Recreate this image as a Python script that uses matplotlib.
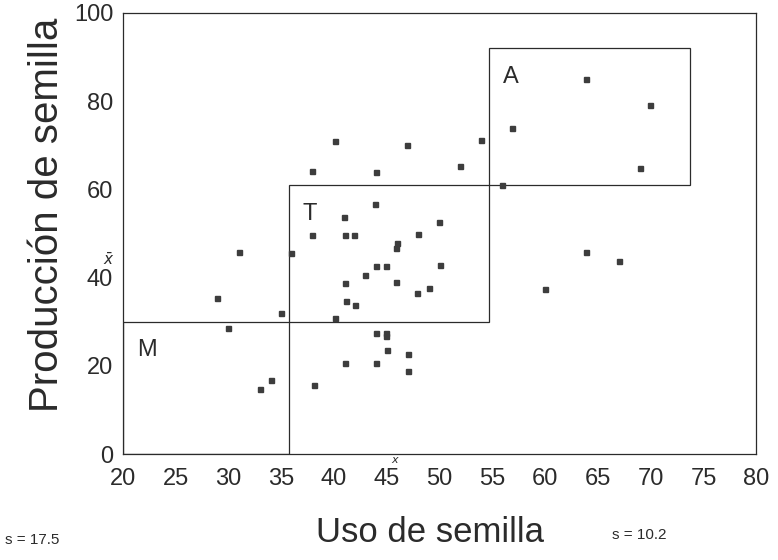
import numpy as np
import matplotlib
matplotlib.use("Agg")
import matplotlib.pyplot as plt
from matplotlib import font_manager
from matplotlib.patches import Rectangle

# uso de semilla (x) y produccion de semilla (y) por parcela
uso = [40.1, 46.9, 53.9, 37.9, 44.0, 51.9, 43.9, 40.9, 49.9, 37.9,
       41.0, 41.9, 48.0, 46.0, 45.9, 35.9, 44.0, 44.9, 50.0, 42.9,
       45.9, 41.0, 49.0, 47.9, 41.1, 42.0, 35.0, 40.1, 44.0, 44.9,
       44.9, 45.0, 47.0, 41.0, 44.0, 47.0, 38.1, 31.0, 28.9, 30.0,
       34.0, 33.0, 63.9, 69.9, 56.9, 69.0, 55.9, 63.9, 67.0, 60.0]
produccion = [71.0, 70.0, 71.2, 64.1, 64.0, 65.2, 56.8, 53.8, 52.6, 49.6,
              49.7, 49.6, 49.8, 47.8, 46.7, 45.6, 42.7, 42.7, 42.9, 40.5,
              39.0, 38.8, 37.7, 36.6, 34.7, 33.8, 31.9, 30.9, 27.5, 27.5,
              26.8, 23.6, 22.6, 20.7, 20.7, 18.8, 15.6, 45.7, 35.4, 28.5,
              16.7, 14.7, 85.0, 79.2, 74.0, 64.9, 60.9, 45.7, 43.7, 37.5]

# zonas: M (medio), T (tipico), A (alto)
zonas = ['M', 'T', 'A']
zona_x = [(20, 35.7), (35.7, 54.7), (54.7, 73.7)]
zona_y = [(0, 30), (30, 61), (61, 92)]

x_ticks = list(range(20, 81, 5))
y_ticks = list(range(0, 101, 20))
s_produccion = 17.5
s_uso = 10.2

nombres = {f.name for f in font_manager.fontManager.ttflist}
normal = 'Liberation Sans' if 'Liberation Sans' in nombres else 'DejaVu Sans'

plt.rcParams['font.family'] = [normal, 'DejaVu Sans']
tinta = '#2b2b2b'

fig = plt.figure(figsize=(7.78, 5.6), dpi=100)
ax = fig.add_axes([0.158, 0.189, 0.814, 0.788])

ax.plot(uso, produccion, 's', ms=3.6, color='#3d3d3d', mec='#3d3d3d')

for z, (x0, x1), (y0, y1) in zip(zonas, zona_x, zona_y):
    ax.add_patch(Rectangle((x0, y0), x1 - x0, y1 - y0, fill=False,
                           lw=0.9, ec=tinta))
    ax.text(x0 + 1.3, y1 - 6.5, z, fontsize=17, color=tinta,
            ha='left', va='center')

ax.set_xlim(20, 80)
ax.set_ylim(0, 100)
ax.set_xticks(x_ticks)
ax.set_yticks(y_ticks)
ax.tick_params(length=0, labelsize=17, colors=tinta)
ax.tick_params(axis='x', pad=10)
ax.tick_params(axis='y', pad=7)
for s in ax.spines.values():
    s.set_color(tinta)
    s.set_linewidth(0.9)

# medias marcadas sobre los ejes
media_x = np.mean(uso)
media_y = np.mean(produccion)
ax.annotate(r'$\bar{x}$', (media_x, 0), xytext=(0, 0), textcoords='offset points',
            ha='center', va='top', fontsize=8, color=tinta, annotation_clip=False)
ax.annotate(r'$\bar{x}$', (20, media_y), xytext=(-6, 0), textcoords='offset points',
            ha='right', va='center', fontsize=11, color=tinta, annotation_clip=False)

fig.text(0.553, 0.05, 'Uso de semilla', fontsize=25,
         ha='center', va='center', color=tinta)
fig.text(0.06, 0.616, 'Producción de semilla', fontsize=29, rotation=90,
         ha='center', va='center', color=tinta)

fig.text(0.007, 0.036, f's = {s_produccion}', fontsize=11, color=tinta,
         ha='left', va='center')
fig.text(0.787, 0.045, f's = {s_uso}', fontsize=11, color=tinta,
         ha='left', va='center')

fig.savefig('out.png', dpi=100, facecolor='white')
